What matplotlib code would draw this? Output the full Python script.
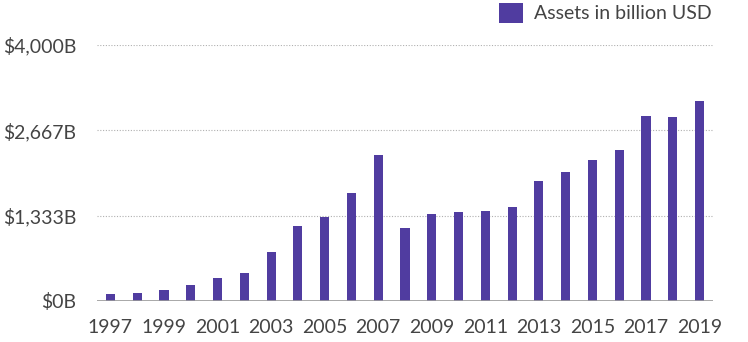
import matplotlib.pyplot as plt
import numpy as np

years = ['1997', '1998', '1999', '2000', '2001', '2002', '2003', '2004', '2005', '2006', '2007', '2008',
         '2009', '2010', '2011', '2012', '2013', '2014', '2015', '2016', '2017', '2018', '2019']
assets = [109, 125, 172, 250, 365, 437, 766, 1177, 1318, 1693, 2286, 1141,
          1365, 1396, 1411, 1474, 1880, 2021, 2208, 2365, 2896, 2875, 3130]
y_ticks = [0, 4000 / 3, 8000 / 3, 4000]
y_labels = ['$0B', '$1,333B', '$2,667B', '$4,000B']

bar_color = '#503ca0'
text_color = '#444444'

plt.rcParams['font.family'] = ['Lato', 'DejaVu Sans']

fig = plt.figure(figsize=(7.48, 3.42), dpi=100)
ax = fig.add_axes([97 / 748, 1 - 301 / 342, (713 - 97) / 748, (301 - 45) / 342])

x = np.arange(len(years))
ax.bar(x, assets, width=0.34, color=bar_color, label='Assets in billion USD', zorder=3)

ax.set_xlim(-0.5, len(years) - 0.5)
ax.set_ylim(0, 4000)
ax.set_yticks(y_ticks)
ax.set_yticklabels(y_labels)
ax.set_xticks(x[::2])
ax.set_xticklabels(years[::2])

# dotted grid, solid baseline
for v in y_ticks[1:]:
    ax.axhline(v, color='#b0b0b0', linestyle=(0, (1, 1.5)), linewidth=0.8, zorder=1)
ax.axhline(0, color='#999999', linewidth=1.2, zorder=4)

for s in ax.spines.values():
    s.set_visible(False)
ax.tick_params(axis='both', length=0, labelsize=14, colors=text_color)
ax.tick_params(axis='y', pad=15)
ax.tick_params(axis='x', pad=13)

leg = fig.legend(loc='upper right', bbox_to_anchor=(715 / 748, 1.0), frameon=False,
                 fontsize=14, handlelength=1.2, handleheight=1.2, handletextpad=0.6,
                 borderaxespad=0.0, borderpad=0.15)
for t in leg.get_texts():
    t.set_color(text_color)

plt.savefig('out.png', dpi=100)
